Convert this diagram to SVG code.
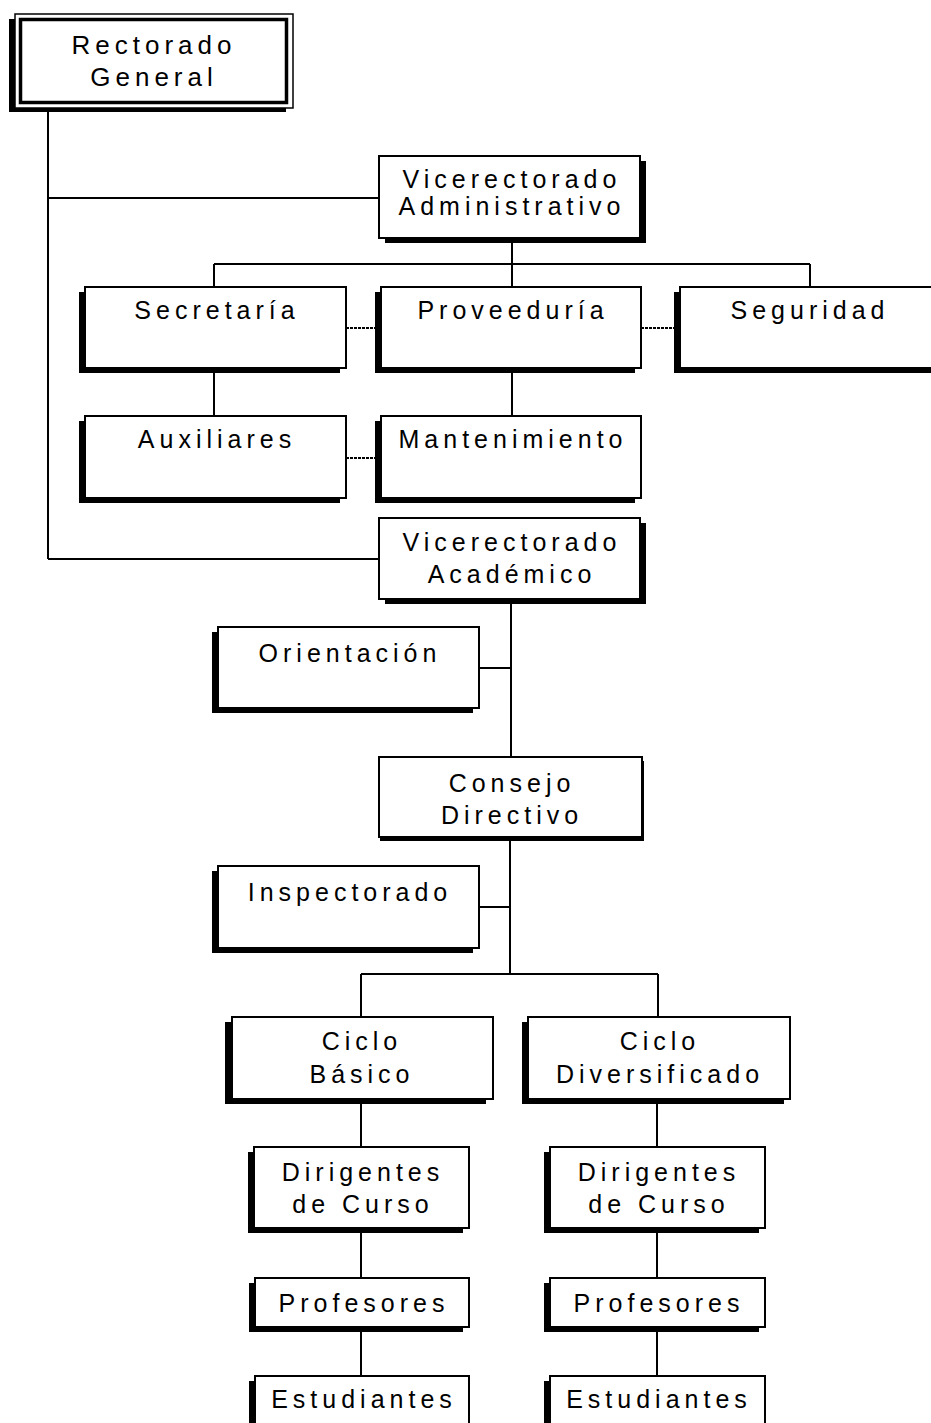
<svg xmlns="http://www.w3.org/2000/svg" width="931" height="1423" viewBox="0 0 931 1423">
<style>
.box{fill:#fff;stroke:#000;stroke-width:2}
.sh{fill:#000}
.t{font-family:"Liberation Sans",Arial,sans-serif;font-size:25px;letter-spacing:5px;text-anchor:middle;fill:#000}
.c{fill:none;stroke:#000;stroke-width:2}
.d{fill:none;stroke:#000;stroke-width:2;stroke-dasharray:3 1}
</style>
<rect width="931" height="1423" fill="#fff"/>
<g id="connectors">
<path class="c" d="M48 112V559M48 198H379M48 559H379"/>
<path class="c" d="M512 242V264M214 264H810M214 264V287M512 264V287M810 264V287"/>
<path class="c" d="M214 368V416M512 368V416"/>
<path class="d" d="M346 328H375M641 328H674M346 458H375"/>
<path class="c" d="M511 604V757M479 668H511"/>
<path class="c" d="M510 841V974M479 907H510M361 974H658M361 974V1017M658 974V1017"/>
<path class="c" d="M361 1104V1147M361 1233V1278M361 1332V1376"/>
<path class="c" d="M657 1104V1147M657 1233V1278M657 1332V1376"/>
</g>
<g id="rectorado">
<rect class="sh" x="9" y="19" width="277" height="93"/>
<rect x="15" y="14" width="278" height="94" fill="#fff" stroke="#000" stroke-width="1.5"/>
<rect x="20.5" y="19.5" width="266" height="83" fill="none" stroke="#000" stroke-width="3.5"/>
<text class="t" x="154" y="54" style="font-size:26px">Rectorado</text>
<text class="t" x="154" y="86" style="font-size:26px">General</text>
</g>
<g id="vadm">
<rect class="sh" x="385" y="161" width="261" height="82"/>
<rect class="box" x="379" y="156" width="261" height="82"/>
<text class="t" x="512" y="188">Vicerectorado</text>
<text class="t" x="512" y="215">Administrativo</text>
</g>
<g id="secretaria">
<rect class="sh" x="79" y="292" width="261" height="81"/>
<rect class="box" x="85" y="287" width="261" height="81"/>
<text class="t" x="217" y="319">Secretaría</text>
</g>
<g id="proveeduria">
<rect class="sh" x="375" y="292" width="260" height="81"/>
<rect class="box" x="381" y="287" width="260" height="81"/>
<text class="t" x="513" y="319">Proveeduría</text>
</g>
<g id="seguridad">
<rect class="sh" x="674" y="292" width="262" height="81"/>
<rect class="box" x="680" y="287" width="262" height="81"/>
<text class="t" x="810" y="319">Seguridad</text>
</g>
<g id="auxiliares">
<rect class="sh" x="79" y="421" width="261" height="82"/>
<rect class="box" x="85" y="416" width="261" height="82"/>
<text class="t" x="217" y="448">Auxiliares</text>
</g>
<g id="mantenimiento">
<rect class="sh" x="375" y="421" width="260" height="82"/>
<rect class="box" x="381" y="416" width="260" height="82"/>
<text class="t" x="513" y="448">Mantenimiento</text>
</g>
<g id="vacad">
<rect class="sh" x="385" y="523" width="261" height="81"/>
<rect class="box" x="379" y="518" width="261" height="81"/>
<text class="t" x="512" y="551">Vicerectorado</text>
<text class="t" x="512" y="583">Académico</text>
</g>
<g id="orientacion">
<rect class="sh" x="212" y="632" width="261" height="81"/>
<rect class="box" x="218" y="627" width="261" height="81"/>
<text class="t" x="350" y="662">Orientación</text>
</g>
<g id="consejo">
<rect class="sh" x="380" y="761" width="264" height="80"/>
<rect class="box" x="379" y="757" width="263" height="80"/>
<text class="t" x="512" y="792">Consejo</text>
<text class="t" x="512" y="824">Directivo</text>
</g>
<g id="inspectorado">
<rect class="sh" x="212" y="871" width="261" height="82"/>
<rect class="box" x="218" y="866" width="261" height="82"/>
<text class="t" x="350" y="901">Inspectorado</text>
</g>
<g id="ciclo-basico">
<rect class="sh" x="225" y="1022" width="261" height="82"/>
<rect class="box" x="232" y="1017" width="261" height="82"/>
<text class="t" x="362" y="1050">Ciclo</text>
<text class="t" x="362" y="1083">Básico</text>
</g>
<g id="ciclo-diversificado">
<rect class="sh" x="522" y="1022" width="262" height="82"/>
<rect class="box" x="528" y="1017" width="262" height="82"/>
<text class="t" x="660" y="1050">Ciclo</text>
<text class="t" x="660" y="1083">Diversificado</text>
</g>
<g id="dirigentes-1">
<rect class="sh" x="248" y="1152" width="215" height="81"/>
<rect class="box" x="254" y="1147" width="215" height="81"/>
<text class="t" x="363" y="1181">Dirigentes</text>
<text class="t" x="363" y="1213">de Curso</text>
</g>
<g id="dirigentes-2">
<rect class="sh" x="544" y="1152" width="215" height="81"/>
<rect class="box" x="550" y="1147" width="215" height="81"/>
<text class="t" x="659" y="1181">Dirigentes</text>
<text class="t" x="659" y="1213">de Curso</text>
</g>
<g id="profesores-1">
<rect class="sh" x="249" y="1283" width="214" height="49"/>
<rect class="box" x="255" y="1278" width="214" height="49"/>
<text class="t" x="364" y="1312">Profesores</text>
</g>
<g id="profesores-2">
<rect class="sh" x="544" y="1283" width="215" height="49"/>
<rect class="box" x="550" y="1278" width="215" height="49"/>
<text class="t" x="659" y="1312">Profesores</text>
</g>
<g id="estudiantes-1">
<rect class="sh" x="249" y="1381" width="214" height="60"/>
<rect class="box" x="255" y="1376" width="214" height="60"/>
<text class="t" x="364" y="1408">Estudiantes</text>
</g>
<g id="estudiantes-2">
<rect class="sh" x="544" y="1381" width="215" height="60"/>
<rect class="box" x="550" y="1376" width="215" height="60"/>
<text class="t" x="659" y="1408">Estudiantes</text>
</g>
</svg>
